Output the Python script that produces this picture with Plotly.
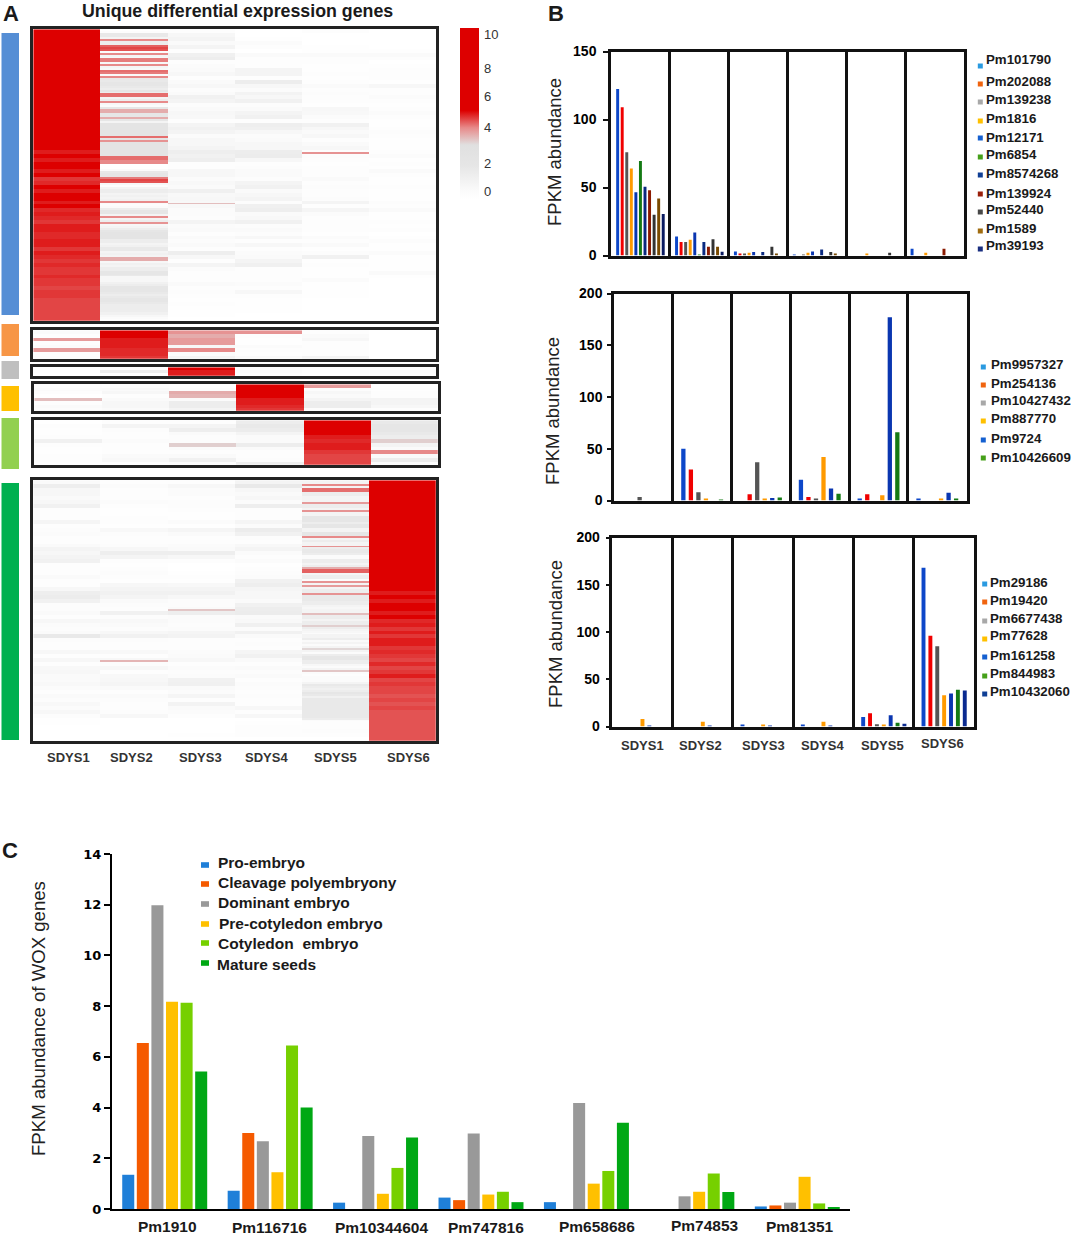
import plotly.graph_objects as go

W, H = 1072, 1237

# ---------- Panel A data ----------
STAGES = ["SDYS1", "SDYS2", "SDYS3", "SDYS4", "SDYS5", "SDYS6"]

c1_s1 = [10]*31 + [5, 5.2, 5, 10, 10, 5, 10, 4.8, 4.9, 10, 5, 10, 10, 5, 10,
         4.9, 5, 4.9, 4.8, 5, 5, 4.9, 4.9, 5, 5, 4.8, 5, 4.9, 4.8, 4.9, 4.8, 4.8, 4.9, 4.8, 4.8, 4.7, 4.8, 4.8, 4.7, 4.7, 4.7, 4.7, 4.7, 4.7]
# read at twice the row density because of its thin stripes
c1_s2 = [0, .3, 1.8, 1.8, 1, 4.2, 1.5, 1.5, 4.5, 4.7,
         4.6, .5, 4.2, 1, .8, 4.3, 4.3, .8, 4.2, 1,
         .8, 4.4, 4.3, .5, 4.2, 1.8, 1.8, 2, 2, 1.8,
         1.5, 2, 1.5, 4.4, 4.4, 1, 1.5, 4.2, .8, .5,
         2, 3.8, 3.8, 2, 2, 3.8, 2, 1, 2.5, 2.5,
         2.5, 2.5, 2.5, 2.5, 2.5, 4.4, 2.5, 4.1, 2.5, 2.5,
         2.5, 2.5, 2.5, 2.5, 2.5, 4.4, 4.4, 4.2, 4.2, 0,
         0, 0, .5, 1.8, 2, 2, 4.3, 4.7, 4.6, .8,
         .2, 1, 1.5, 1.5, 1, 1.2, 1, 1.2, 4.2, .5,
         .3, .5, 1.5, 2, 2, 1, 4.2, 1, 1.5, 4.1,
         .8, 1, 1.5, 2, 2.5, 2.5, 2.5, 2.5, 1.5, 1.5,
         1, 1.2, 1.8, 1.8, 1, 1.2, 1, 3.8, 3.8, .8,
         1.2, 1, 1.5, 1.5, 2, 2, 1.8, .8, .8, .8,
         1.2, 1.5, 2, 2, 2, 1.8, 1.5, 1.8, 2, 2,
         1.8, 1.5, 1.5, 1.5, 1.5, 1.2, 1.2, .8, .5, .2]
c1_s3 = [.2, .8, 1, .6, 1, .2, 1.3, 1.5, .3, .5, .6, .8, .3, .6, .8, .4, .6, 1.2, 1, .4, .6, .8, .7, .2, 1,
         1.2, 1, .5, .8, .8, 1, 1.4, 1.2, 1.4, .2, .3, .8, .8, .5, .7, .6, 1.3, .7, .8, .7, .7, .5, .5, .4, 1,
         .5, .6, .2, .6, .4, .6, .2, 1.4, .8, .2, 1, .5, .2, .2, .2, .6, .2, .4, .2, .1, .2, .1, .1, .1, 0]
c1_s4 = [0, 0, .1, .5, .2, 0, .6, .3, .2, .2, 1, 1, .3, 1.5, .8, .5, 1.1, .8, 1.2, .4, .6, 1, 1.2, .3, 1.4,
         1.3, .8, .5, .6, .8, .8, 1.5, 1.6, .8, .2, .4, .6, .6, .4, 1, 1.2, .6, .8, 1, .4, 1.3, 1.4, .6, .7, 1.2,
         .4, .6, .4, .8, .3, .8, .3, .5, .6, 1, 1.3, .3, .2, .2, .3, .5, .2, .8, .2, .1, .1, .1, .1, 0, 0]
c1_s5 = [.2, 0, 0, 0, .1, .1, .6, .2, .2, .1, .1, .3, .1, .3, .6, .2, .4, .2, .2, .1, .8, .7, .5, .2, 1.2,
         .8, .6, .8, .3, .6, .8, .2, .4, .2, .1, .2, .3, .3, .6, .3, .4, .3, .3, .4, 1, .3, .9, .5, .2, .3,
         .3, .3, .1, .5, .2, .6, .1, .4, 1.2, .1, .2, .1, .1, .1, .5, .1, .1, .1, .1, 0, 0, 0, 0, 0, 0]
c1_s6 = [0, 0, 0, 0, 0, .1, .6, .2, 0, .1, .2, .3, .2, .1, .8, .2, .2, .5, .2, .1, .2, .5, .3, .1, .1,
         .2, .4, .2, .1, .1, .1, .2, .5, .1, .2, .1, .6, .2, .1, .1, .2, .1, .1, .1, .4, .2, .6, .1, .1, .3,
         .1, .2, 0, .1, .4, .1, .1, .5, .1, .1, .1, .1, .6, .1, 0, 0, 0, 0, 0, 0, 0, 0, 0, 0, 0]
# single thin stripes in the block above: (fine row, value)
c1_s3_stripe = (89, 3.6)
c1_s5_stripe = (63, 4.1)

c2_s1 = [.6, .3, 4, .3, .5, 4, .2, .4]
c2_s2 = [10, 10, 5, 5, 5, 4.9, 4.9, 4.8]
c2_s3 = [4.1, 3.8, 4, 4, .8, 4.2, .5, 1]
c2_s4 = [4.1, .2, .1, .1, .5, .2, .1, .6]
c2_s5 = [.2, .6, .8, .2, .2, .3, .2, 1]
c2_s6 = [0, 0, 0, 0, 0, 0, 0, 0]

c3_s1 = [.1, .2, .1]
c3_s2 = [.3, 1.5, .2]
c3_s3 = [10, 5, 5]
c3_s4 = [.2, .5, .2]
c3_s5 = [.1, .2, .1]
c3_s6 = [.1, .1, 0]

c4_s1 = [.2, .5, .2, 0, 3.6, .3, .6, .4]
c4_s2 = [.1, .6, .8, .3, .6, .8, .8, .6]
c4_s3 = [0, .2, 3.8, 3.7, .5, 1.5, 1.5, 1]
c4_s4 = [10, 10, 10, 10, 5, 5, 4.9, 4.8]
c4_s5 = [4, .4, .8, .6, 1, 1.5, 1.5, .4]
c4_s6 = [0, .1, .2, .2, 1, 1, .8, .3]

c5_s1 = [0, .2, .1, .1, .3, 1.2, .2, .1, .1, .2, .3, .1]
c5_s2 = [.2, 1, .4, .2, .3, .5, .2, .3, .2, .6, .7, .1]
c5_s3 = [.3, 1, 1.4, .6, .4, .4, 3.4, .5, .2, .6, 1.2, .2]
c5_s4 = [1.5, 1.8, 1.6, 1, .6, .6, 1.5, .6, .3, .3, .4, 1.4]
c5_s5 = [10, 10, 10, 10, 5, 4.9, 5, 5, 4.8, 4.7, 4.7, 4.7]
c5_s6 = [1.8, 2, 2, 1.8, 1.5, 3.4, 1, .6, 4.2, .6, 1.5, .4]

c6_s1 = [.6, 1.4, .8, .8, .6, .8, 1.2, .2, .2, .2, .9, .2, .4, .5, .3, .2, .6, 1, .8, 1, 1.2, .3, .2, .2, .6,
         .2, .3, .8, 1.4, 1.6, 1.2, .4, .4, .6, .2, .8, .5, .4, .6, 1.8, .4, .3, .2, .8, .3, .8, .2, .7, .8, .6,
         .6, .7, .5, .2, .6, .4, .7, .5, .8, .4, .1, .1, 0, 0, 0, 0]
c6_s2 = [.3, .5, .3, .3, .2, .5, .3, .1, .1, .2, .3, .1, .7, .4, .3, .2, .4, .8, 1.4, 1, .2, .1, .2, .4, .2,
         .1, .8, 1, 1.2, 1, .6, .4, .3, 1.2, .4, .7, .6, .4, .8, 1.2, .4, .2, .3, .7, .3, .8, .4, .8, .3, .7,
         .8, .9, .6, .2, .6, .4, .3, .2, .4, .8, 0, 0, 0, 0, 0, 0]
c6_s3 = [.2, .8, .5, .5, .3, .4, .4, .2, .1, .1, .5, .1, .9, .6, .2, .3, .5, .6, 1.4, .8, .2, 0, 0, .1, .3,
         .1, .7, 1, 1.2, .8, .4, .4, .6, 1.4, .5, .5, .4, .5, .9, 1.1, .3, .2, .3, .5, .6, .8, .2, .5, .4, .5,
         1.2, 1.3, .6, .5, .9, .3, 1.1, .6, .5, .2, 0, 0, 0, 0, .1, 0]
c6_s4 = [1, 1.8, .8, .6, .8, .5, 1.4, .3, .2, .3, .9, .5, 1.6, 1.2, .4, .3, .7, 1, .5, .2, .5, .1, .2, .4, .5,
         1.2, 1.4, .9, .8, .8, .6, 1.2, 1.5, 1.6, .6, .7, 1.3, .5, 1.2, .6, .2, .4, .3, .9, 1.2, .6, .2, .6, .4, .6,
         .3, .5, .4, .2, .4, .3, .2, .8, .3, .8, 0, .1, .2, .3, .3, 0]
# read at twice the row density because of its thin stripes
c6_s5 = [1, 1, 4.2, 1, 4.4, 4.4, 1.5, 1.5, 1, 1,
         1, 4, 1.5, 1.5, 1, 4.1, 1, 1, 2, 2,
         2, 1.5, 2, 2, 1, 1, 2, 2, 4.2, 1,
         1.5, 1, 1, 4.1, 1.5, 1.8, 1.8, 1.5, .5, .5,
         1.5, 1.5, 1, 1.5, 3.8, 4.5, 4.5, 1, 1.5, 1.5,
         .5, 4.1, 1, 4, 1, 1.5, 1.5, 4.1, 1.8, 1.8,
         1.8, 1.5, 1.5, 1, .8, 1, 1, 3.6, 1.5, 1.5,
         1, 1.5, 1.5, 3.4, 1.5, 1, .8, .5, 1, 1,
         1.5, .6, 1, .5, 1, 3.3, 1, .5, 1.5, 2,
         2, 1.5, 1.5, .8, .5, 1, 3.5, .5, .2, .5,
         .5, .5, 1, 1.8, 1.5, 1.2, 1.5, 2, 1.8, 1.2,
         1.8, 1.8, 1.8, 1.8, 1.8, 1.8, 1.8, 1.8, 1.8, 1.8,
         1.5, .5, .3, .3, .2, .2, .4, .4, .2, .2,
         0, 0]
c6_s6 = [10]*28 + [5, 5.2, 5, 10, 10, 5, 10, 4.9, 5, 4.8, 5, 4.8, 5, 5, 4.8, 4.9, 4.8, 4.7, 4.9, 4.7, 4.8, 5, 4.7, 4.8,
         4.7, 4.7, 4.6, 4.7, 4.6, 4.7, 4.6, 4.6, 4.6, 4.6, 4.6, 4.6, 4.6, 4.6]
c6_s3_stripe = (65, 3.5)
c6_s2_stripe = (91, 3.7)

def dbl(col):
    """Each value read for a band covers two of the finer rows."""
    return [v for v in col for _ in (0, 1)]

def striped(col, stripe):
    out = dbl(col)
    out[stripe[0]] = stripe[1]
    return out

HEAT_BLOCKS = [
    [dbl(c1_s1), c1_s2, striped(c1_s3, c1_s3_stripe), dbl(c1_s4), striped(c1_s5, c1_s5_stripe), dbl(c1_s6)],
    [c2_s1, c2_s2, c2_s3, c2_s4, c2_s5, c2_s6],
    [c3_s1, c3_s2, c3_s3, c3_s4, c3_s5, c3_s6],
    [c4_s1, c4_s2, c4_s3, c4_s4, c4_s5, c4_s6],
    [c5_s1, c5_s2, c5_s3, c5_s4, c5_s5, c5_s6],
    [dbl(c6_s1), striped(c6_s2, c6_s2_stripe), striped(c6_s3, c6_s3_stripe), dbl(c6_s4), c6_s5, dbl(c6_s6)],
]

# ---------- Panel B data: one list per gene, one value per stage ----------
b1_genes = ["Pm101790", "Pm202088", "Pm139238", "Pm1816", "Pm12171", "Pm6854", "Pm8574268", "Pm139924", "Pm52440", "Pm1589", "Pm39193"]
b1_values = [
    [122.5, 14, 3, .7, 0, 5],
    [109, 10, 1.5, 0, 0, 0],
    [76, 10, 1, .5, 0, 0],
    [64, 11.5, 2, 2, 1.5, 2],
    [46.5, 17, 2.5, 3, 0, 0],
    [69.5, .5, 0, 0, 0, 0],
    [50.5, 10, 2.5, 4.5, 0, 0],
    [48, 6.5, 0, 0, 0, 5],
    [30, 12, 6.5, 2.5, 2, 0],
    [42, 6.5, 1, 1, 0, 0],
    [30.5, 2.7, 0, 0, 0, 0],
]
b2_genes = ["Pm9957327", "Pm254136", "Pm10427432", "Pm887770", "Pm9724", "Pm10426609"]
b2_values = [
    [0, 50, 0, 20, 1.5, 1],
    [0, 30, 6, 3.5, 6, 0],
    [3.5, 8, 37, 1, 0, 0],
    [0, 1, 2, 42, 5, 2],
    [0, 0, 2.5, 11.5, 177, 7.5],
    [0, .7, 3, 6.5, 66, 1.5],
]
b3_genes = ["Pm29186", "Pm19420", "Pm6677438", "Pm77628", "Pm161258", "Pm844983", "Pm10432060"]
b3_values = [
    [0, 0, 2, 2, 10, 168],
    [0, 0, 0, 0, 14, 96],
    [0, 0, 0, 0, 2.5, 85],
    [8, 5, 2, 5, 2, 33],
    [1, 1, 1, 1, 12, 35],
    [0, 0, 0, 0, 4, 39],
    [0, 0, 0, 0, 3, 38],
]

# ---------- Panel C data ----------
c_genes = ["Pm1910", "Pm116716", "Pm10344604", "Pm747816", "Pm658686", "Pm74853", "Pm81351"]
c_stages = ["Pro-embryo", "Cleavage polyembryony", "Dominant embryo", "Pre-cotyledon embryo", "Cotyledon  embryo", "Mature seeds"]
c_values = [
    [1.35, .72, .25, .45, .27, 0, .1],
    [6.55, 3.0, 0, .35, 0, 0, .14],
    [11.98, 2.67, 2.88, 2.98, 4.18, .5, .25],
    [8.17, 1.45, .6, .57, 1.0, .68, 1.27],
    [8.13, 6.45, 1.62, .68, 1.5, 1.4, .22],
    [5.42, 4.0, 2.82, .27, 3.4, .67, .05],
]

# ---------- styles ----------
SANS = "Liberation Sans, Arial, sans-serif"
WIDE = "DejaVu Sans, sans-serif"
INK = "#1a1a1a"
BAR_B1 = ["#0d47c9", "#f00000", "#555555", "#ff9a00", "#0a36b0", "#147a14", "#0a2a80", "#8a1a00", "#333333", "#7a4a00", "#0a1a60"]
KEY_B1 = ["#2a9ae0", "#f0640f", "#a8a8a8", "#ffc000", "#1560d0", "#46a01a", "#0f3f95", "#9a1f0a", "#484848", "#a06c10", "#1a2f80"]
BAR_B2 = ["#0d47c9", "#f00000", "#555555", "#ff9a00", "#0a36b0", "#147a14"]
KEY_B2 = KEY_B1[:6]
BAR_B3 = ["#0d47c9", "#f00000", "#555555", "#ff9a00", "#0a36b0", "#147a14", "#0a2a90"]
KEY_B3 = KEY_B1[:6] + ["#0f3f95"]
BAR_C = ["#1f7fd8", "#f55a00", "#999999", "#ffc000", "#76d000", "#00a814"]

def xp(x): return x / W
def yp(y): return 1 - y / H

fig = go.Figure()
annotations, shapes = [], []
layout_axes = {}

def text(x, y, s, size, bold=True, family=SANS, color=INK, anchor="left", angle=0):
    annotations.append(dict(x=xp(x), y=yp(y), xref="paper", yref="paper", text=f"<b>{s}</b>" if bold else s,
                            showarrow=False, xanchor=anchor, yanchor="middle", textangle=angle,
                            font=dict(size=size, family=family, color=color), borderpad=0, borderwidth=0))

def rect(x0, y0, x1, y1, color):
    shapes.append(dict(type="rect", xref="paper", yref="paper", x0=xp(x0), x1=xp(x1), y0=yp(y1), y1=yp(y0),
                       fillcolor=color, line=dict(width=0)))

# ---------- Panel A ----------
HEAT_BOXES = [(32, 28, 437, 322), (32, 329, 437, 360), (32, 366, 437, 377), (33, 383, 439, 412), (33, 419, 439, 466), (32, 479, 437, 742)]
FRAME = 2.5
SCALE = [[0, "#ffffff"], [.05, "#fbfbfb"], [.2, "#e6e6e6"], [.32, "#e0e0e0"], [.42, "#e78a8a"], [.52, "#dd0000"], [1, "#dd0000"]]
idx = 1
for cols, box in zip(HEAT_BLOCKS, HEAT_BOXES):
    rows = list(map(list, zip(*cols)))
    fig.add_trace(go.Heatmap(z=rows, x=STAGES, coloraxis="coloraxis", xaxis=f"x{idx}", yaxis=f"y{idx}"))
    inset = FRAME / 2
    layout_axes[f"xaxis{idx}"] = dict(domain=[xp(box[0] + inset), xp(box[2] - inset)], anchor=f"y{idx}", showticklabels=False, ticks="",
                                      showline=True, mirror=True, linecolor="#222222", linewidth=FRAME, showgrid=False, zeroline=False)
    layout_axes[f"yaxis{idx}"] = dict(domain=[yp(box[3] - inset), yp(box[1] + inset)], anchor=f"x{idx}", showticklabels=False, ticks="", autorange="reversed",
                                      showline=True, mirror=True, linecolor="#222222", linewidth=FRAME, showgrid=False, zeroline=False)
    idx += 1

for (y0, y1, col) in [(33, 315, "#558ed5"), (324, 356, "#f79646"), (361, 379, "#bfbfbf"), (386, 411, "#ffc000"), (418, 469, "#92d050"), (483, 740, "#00b050")]:
    rect(1.5, y0, 19, y1, col)

text(237, 11, "Unique differential expression genes", 17.8, anchor="center")
for name, x in zip(STAGES, [68, 131, 200, 266, 335, 408]):
    text(x, 757, name, 13, anchor="center", color="#333333")
text(11, 14, "A", 22, anchor="center")
text(556, 14, "B", 22, anchor="center")
text(10, 850, "C", 22, anchor="center")

# ---------- Panel B ----------
def bar_panel(genes, values, colors, box, ymax, ticks, step, barw, ticklen, standoff, dividers_color="#111111"):
    global idx
    n = len(genes)
    for i, (g, vals) in enumerate(zip(genes, values)):
        fig.add_trace(go.Bar(name=g, x=list(range(6)), y=vals, width=barw, offset=(i - n / 2) * step + (step - barw) / 2,
                             marker=dict(color=colors[i], line=dict(width=0)), showlegend=False,
                             xaxis=f"x{idx}", yaxis=f"y{idx}"))
    layout_axes[f"xaxis{idx}"] = dict(domain=[xp(box[0]), xp(box[2])], anchor=f"y{idx}", range=[-.5, 5.5], tickmode="array",
                                      tickvals=[.5, 1.5, 2.5, 3.5, 4.5], showticklabels=False, ticks="", showgrid=True,
                                      gridcolor=dividers_color, gridwidth=FRAME, zeroline=False, showline=True, mirror=True,
                                      linecolor=dividers_color, linewidth=FRAME)
    layout_axes[f"yaxis{idx}"] = dict(domain=[yp(box[3]), yp(box[1])], anchor=f"x{idx}", range=[0, ymax], tickmode="array", tickvals=ticks,
                                      ticks="outside", ticklen=ticklen, tickwidth=2, tickcolor=dividers_color, showgrid=False, zeroline=False,
                                      showline=True, mirror=True, linecolor=dividers_color, linewidth=FRAME, ticklabelstandoff=standoff,
                                      tickfont=dict(family=SANS, size=14, color="#000000", weight="bold"))
    idx += 1

bar_panel(b1_genes, b1_values, BAR_B1, (611, 51.5, 964.3, 255.5), 150, [0, 50, 100, 150], .0774, .05, 5, 4)
bar_panel(b2_genes, b2_values, BAR_B2, (614, 293.5, 966.7, 500.5), 200, [0, 50, 100, 150, 200], .128, .073, 4, 2)
bar_panel(b3_genes, b3_values, BAR_B3, (612.3, 537.5, 974.3, 726.5), 200, [0, 50, 100, 150, 200], .114, .065, 4, 3)

def key_list(names, keys, kx, ky, tx, ty):
    for n, c, a, b in zip(names, keys, ky, ty):
        rect(kx - 2.5, a - 2.5, kx + 2.5, a + 2.5, c)
        text(tx, b, n, 13.3)

key_list(b1_genes, KEY_B1, 980.3, [66, 84, 102, 121, 138, 157, 175, 194, 212, 231, 249], 986.3, [59, 82, 99, 118, 137, 155, 173, 193, 210, 228, 245])
key_list(b2_genes, KEY_B2, 983.3, [367, 385, 403, 421, 440, 458], 990.7, [364, 383, 401, 419, 439, 457])
key_list(b3_genes, KEY_B3, 984.7, [584, 602, 621, 639, 657, 676, 694], 989.7, [582, 600, 618, 636, 655, 673, 691])

text(554, 152, "FPKM abundance", 18.5, bold=False, anchor="center", angle=-90, color="#222222")
text(553, 411, "FPKM abundance", 18.5, bold=False, anchor="center", angle=-90, color="#222222")
text(555, 634, "FPKM abundance", 18.5, bold=False, anchor="center", angle=-90, color="#222222")
for name, x, y in zip(STAGES, [642, 700.7, 763.7, 822, 882, 942], [745, 745, 745, 745, 745, 743]):
    text(x, y, name, 13, anchor="center", color="#333333")

# ---------- Panel C ----------
for i, (s, vals) in enumerate(zip(c_stages, c_values)):
    fig.add_trace(go.Bar(name=s, x=list(range(7)), y=vals, width=.114, offset=(i - 3) * .1384 + (.1384 - .114) / 2,
                         marker=dict(color=BAR_C[i], line=dict(width=0)), showlegend=False, xaxis=f"x{idx}", yaxis=f"y{idx}"))
layout_axes[f"xaxis{idx}"] = dict(domain=[xp(112), xp(850)], anchor=f"y{idx}", range=[-.5, 6.5], showticklabels=False, ticks="",
                                  showgrid=False, zeroline=False, showline=True, linecolor="#000000", linewidth=2)
layout_axes[f"yaxis{idx}"] = dict(domain=[yp(1209), yp(854)], anchor=f"x{idx}", range=[0, 14], tickmode="array", tickvals=list(range(0, 15, 2)),
                                  ticks="outside", ticklen=6, tickwidth=2, tickcolor="#000000", showgrid=False, zeroline=False,
                                  showline=True, linecolor="#000000", linewidth=2,
                                  tickfont=dict(family=WIDE, size=13, color="#000000", weight="bold"))
for name, x, y in zip(c_genes, [167, 269, 381, 486, 597, 705, 800], [1226, 1227, 1227, 1227, 1226, 1225, 1226]):
    text(x, y, name, 15.5, anchor="center")
for name, col, ky, tx, ty in zip(c_stages, BAR_C, [865, 884, 904, 924, 943, 963], [218, 218, 218, 219, 218, 217], [862, 882, 902, 923, 943, 964]):
    rect(201, ky - 2.8, 209, ky + 2.8, col)
    text(tx, ty, name, 15.5)
text(38, 1019, "FPKM abundance of WOX genes", 18.6, bold=False, anchor="center", angle=-90, color="#222222")

fig.update_layout(
    width=W, height=H, margin=dict(l=0, r=0, t=0, b=0, autoexpand=False), paper_bgcolor="white", plot_bgcolor="white",
    barmode="overlay", showlegend=False, annotations=annotations, shapes=shapes,
    coloraxis=dict(cmin=0, cmax=10, colorscale=SCALE, colorbar=dict(
        x=xp(460), xanchor="left", y=yp(28), yanchor="top", lenmode="pixels", len=172, thicknessmode="pixels", thickness=19,
        xpad=0, ypad=0, outlinewidth=0, ticks="outside", ticklen=3, tickcolor="rgba(0,0,0,0)", tickmode="array",
        tickvals=[9.65, 7.67, 6.05, 4.24, 2.15, .47], ticktext=["10", "8", "6", "4", "2", "0"],
        tickfont=dict(family=SANS, size=13, color="#333333"))),
    **layout_axes,
)
fig.write_html("out.html", post_script="document.body.style.margin='0';", config={"displayModeBar": False})
